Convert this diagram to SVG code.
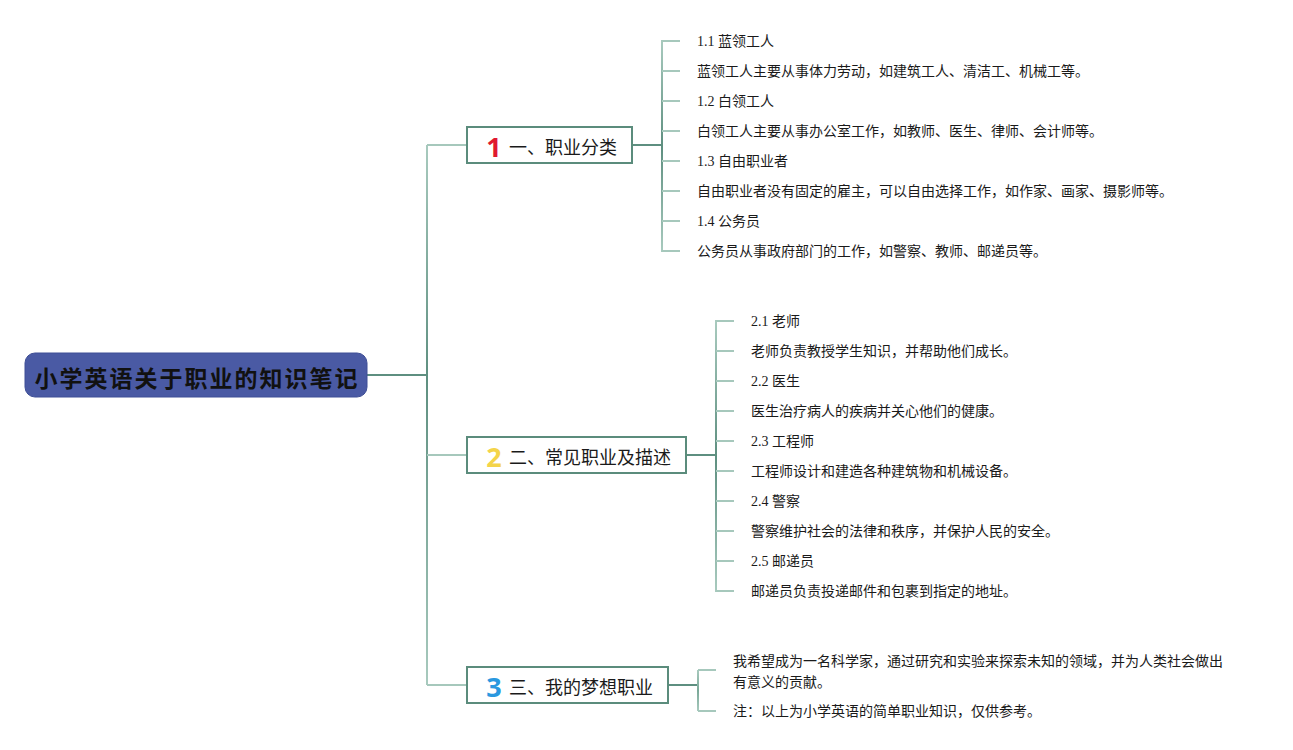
<svg xmlns="http://www.w3.org/2000/svg" width="1293" height="750" viewBox="0 0 1293 750">
<style>
.bg{fill:#ffffff}
.root rect{fill:#4a5aa4;stroke:#3f4f96;stroke-width:1}
.root text{font-family:"Noto Sans CJK SC","Noto Sans",sans-serif;font-size:23px;font-weight:bold;fill:#111;letter-spacing:2px}
.box rect{fill:#fff;stroke:#5b8c7c;stroke-width:2}
.box text.t{font-family:"Noto Sans CJK SC","Noto Sans",sans-serif;font-size:18px;fill:#1a1a1a}
.num{font-family:"Noto Sans","Liberation Sans",sans-serif;font-size:27px;font-weight:bold}
.leaf text{font-family:"Liberation Serif","Noto Sans CJK SC",serif;font-size:14px;fill:#1a1a1a}
.ln{fill:none;stroke-width:2}
.dark{stroke:#5e8f80}
.tick{stroke:#a6c8bc}
</style>
<defs>
<linearGradient id="gTrunk" gradientUnits="userSpaceOnUse" x1="0" y1="145" x2="0" y2="685">
<stop offset="0" stop-color="#a8cabe"/><stop offset="0.43" stop-color="#5e8f80"/><stop offset="1" stop-color="#a8cabe"/>
</linearGradient>
<linearGradient id="g1" gradientUnits="userSpaceOnUse" x1="0" y1="41" x2="0" y2="251">
<stop offset="0" stop-color="#a8cabe"/><stop offset="0.5" stop-color="#5e8f80"/><stop offset="1" stop-color="#a8cabe"/>
</linearGradient>
<linearGradient id="g2" gradientUnits="userSpaceOnUse" x1="0" y1="321" x2="0" y2="591">
<stop offset="0" stop-color="#a8cabe"/><stop offset="0.5" stop-color="#5e8f80"/><stop offset="1" stop-color="#a8cabe"/>
</linearGradient>
<linearGradient id="g3" gradientUnits="userSpaceOnUse" x1="0" y1="670" x2="0" y2="711">
<stop offset="0" stop-color="#a8cabe"/><stop offset="0.5" stop-color="#7aa898"/><stop offset="1" stop-color="#a8cabe"/>
</linearGradient>
</defs>
<rect class="bg" x="0" y="0" width="1293" height="750"/>

<g id="connectors">
<path class="ln dark" d="M367 375 H427"/>
<path class="ln" stroke="url(#gTrunk)" d="M427 145 V685"/>
<path class="ln tick" d="M427 145 H467 M427 455 H467 M427 685 H467"/>
<path class="ln dark" d="M632 145 H662"/>
<path class="ln" stroke="url(#g1)" d="M662 40 V252"/>
<path class="ln tick" d="M662 41 H680 M662 71 H680 M662 101 H680 M662 131 H680 M662 161 H680 M662 191 H680 M662 221 H680 M662 251 H680"/>
<path class="ln dark" d="M686 455 H716"/>
<path class="ln" stroke="url(#g2)" d="M716 320 V592"/>
<path class="ln tick" d="M716 321 H734 M716 351 H734 M716 381 H734 M716 411 H734 M716 441 H734 M716 471 H734 M716 501 H734 M716 531 H734 M716 561 H734 M716 591 H734"/>
<path class="ln dark" d="M668 685 H698"/>
<path class="ln" stroke="url(#g3)" d="M698 670 V711"/>
<path class="ln tick" d="M698 670 H716 M698 711 H716"/>
</g>

<g id="root" class="root">
<rect x="25" y="353" width="342" height="44" rx="10" ry="10"/>
<text x="197" y="377" text-anchor="middle" dominant-baseline="central">小学英语关于职业的知识笔记</text>
</g>

<g id="node1" class="box">
<rect x="467" y="127" width="165" height="36"/>
<text class="num" x="494" y="146" text-anchor="middle" dominant-baseline="central" fill="#e0192f">1</text>
<text class="t" x="509" y="146" dominant-baseline="central">一、职业分类</text>
</g>
<g id="node2" class="box">
<rect x="467" y="437" width="219" height="36"/>
<text class="num" x="494" y="456" text-anchor="middle" dominant-baseline="central" fill="#f4d44a">2</text>
<text class="t" x="509" y="456" dominant-baseline="central">二、常见职业及描述</text>
</g>
<g id="node3" class="box">
<rect x="467" y="667" width="201" height="36"/>
<text class="num" x="494" y="686" text-anchor="middle" dominant-baseline="central" fill="#2a98df">3</text>
<text class="t" x="509" y="686" dominant-baseline="central">三、我的梦想职业</text>
</g>

<g id="leaves1" class="leaf">
<text x="697" y="41" dominant-baseline="central">1.1 蓝领工人</text>
<text x="697" y="71" dominant-baseline="central">蓝领工人主要从事体力劳动，如建筑工人、清洁工、机械工等。</text>
<text x="697" y="101" dominant-baseline="central">1.2 白领工人</text>
<text x="697" y="131" dominant-baseline="central">白领工人主要从事办公室工作，如教师、医生、律师、会计师等。</text>
<text x="697" y="161" dominant-baseline="central">1.3 自由职业者</text>
<text x="697" y="191" dominant-baseline="central">自由职业者没有固定的雇主，可以自由选择工作，如作家、画家、摄影师等。</text>
<text x="697" y="221" dominant-baseline="central">1.4 公务员</text>
<text x="697" y="251" dominant-baseline="central">公务员从事政府部门的工作，如警察、教师、邮递员等。</text>
</g>

<g id="leaves2" class="leaf">
<text x="751" y="321" dominant-baseline="central">2.1 老师</text>
<text x="751" y="351" dominant-baseline="central">老师负责教授学生知识，并帮助他们成长。</text>
<text x="751" y="381" dominant-baseline="central">2.2 医生</text>
<text x="751" y="411" dominant-baseline="central">医生治疗病人的疾病并关心他们的健康。</text>
<text x="751" y="441" dominant-baseline="central">2.3 工程师</text>
<text x="751" y="471" dominant-baseline="central">工程师设计和建造各种建筑物和机械设备。</text>
<text x="751" y="501" dominant-baseline="central">2.4 警察</text>
<text x="751" y="531" dominant-baseline="central">警察维护社会的法律和秩序，并保护人民的安全。</text>
<text x="751" y="561" dominant-baseline="central">2.5 邮递员</text>
<text x="751" y="591" dominant-baseline="central">邮递员负责投递邮件和包裹到指定的地址。</text>
</g>

<g id="leaves3" class="leaf">
<text x="733" y="661" dominant-baseline="central">我希望成为一名科学家，通过研究和实验来探索未知的领域，并为人类社会做出</text>
<text x="733" y="682" dominant-baseline="central">有意义的贡献。</text>
<text x="733" y="711" dominant-baseline="central">注：以上为小学英语的简单职业知识，仅供参考。</text>
</g>
</svg>
